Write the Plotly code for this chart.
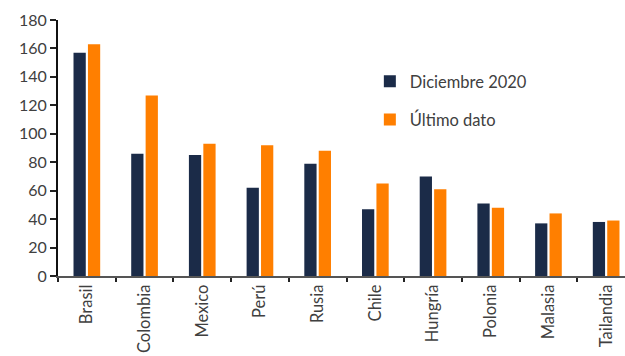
import plotly.graph_objects as go

paises = ["Brasil", "Colombia", "Mexico", "Perú", "Rusia", "Chile", "Hungría",
          "Polonia", "Malasia", "Tailandia"]
diciembre_2020 = [157, 86, 85, 62, 79, 47, 70, 51, 37, 38]
ultimo_dato = [163, 127, 93, 92, 88, 65, 61, 48, 44, 39]

NAVY = "#1b2b48"
ORANGE = "#ff7f00"
FONT = "Lato"
GREY = "#404040"

fig = go.Figure()
fig.add_trace(go.Bar(x=paises, y=diciembre_2020, name="Diciembre 2020",
                     marker=dict(color=NAVY, line=dict(width=0)), legend="legend",
                     showlegend=True))
fig.add_trace(go.Bar(x=paises, y=ultimo_dato, name="Último dato",
                     marker=dict(color=ORANGE, line=dict(width=0)), legend="legend2",
                     showlegend=True))

legend_style = dict(font=dict(family=FONT, size=16.5, color=GREY),
                    bgcolor="rgba(0,0,0,0)", xanchor="left", yanchor="middle",
                    itemwidth=30, visible=True)
fig.update_layout(
    width=625, height=356,
    margin=dict(l=58, r=0, t=20, b=80),
    paper_bgcolor="white", plot_bgcolor="white",
    barmode="group", bargap=0.5, bargroupgap=0.15,
    showlegend=True,
    font=dict(family=FONT, size=16, color=GREY),
    legend=dict(x=0.55, y=0.76, **legend_style),
    legend2=dict(x=0.55, y=0.61, **legend_style),
    xaxis=dict(
        range=[-0.5, -0.5 + 567 / 57.7], automargin=False,
        tickson="boundaries", ticks="outside", ticklen=4, tickwidth=2,
        tickcolor="#222222", tickangle=-90,
        showline=True, linecolor="#555555", linewidth=2,
        tickfont=dict(family=FONT, size=16.5, color=GREY),
    ),
    yaxis=dict(
        range=[0, 180], dtick=20, ticks="outside", ticklen=6, tickwidth=1.5,
        tickcolor="#222222", showgrid=False, zeroline=False, automargin=False,
        showline=True, linecolor="#111111", linewidth=2,
        tickfont=dict(family=FONT, size=16, color=GREY),
    ),
)

fig.write_html("out.html")
